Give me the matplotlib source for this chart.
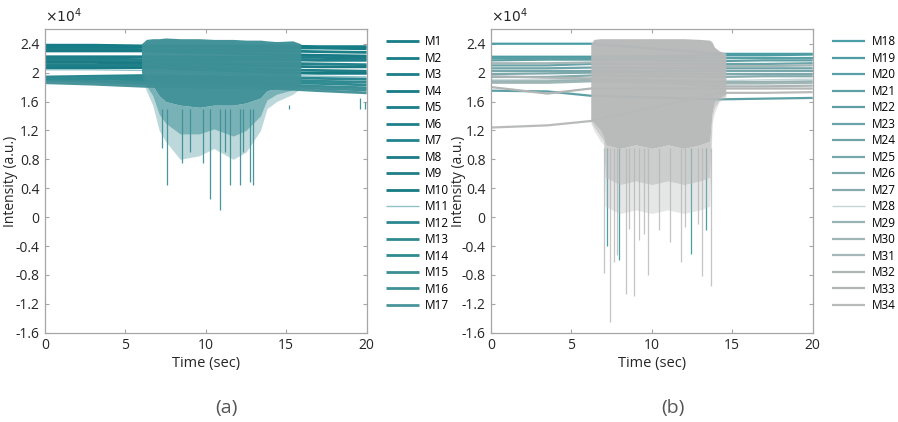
import matplotlib
matplotlib.use("Agg")
import matplotlib.pyplot as plt

plt.rcParams["font.family"] = ["Open Sans", "DejaVu Sans"]

# ---- data (intensity in units of 1e4) ----
left_names = [f"M{i}" for i in range(1, 18)]
right_names = [f"M{i}" for i in range(18, 35)]

left_knot_t = [0, 3, 6.2, 14.5, 17, 20]
left_levels = [
    [2.38, 2.38, 2.37, 2.37, 2.36, 2.36],
    [2.36, 2.36, 2.36, 2.34, 2.34, 2.33],
    [2.33, 2.33, 2.32, 2.30, 2.29, 2.28],
    [2.30, 2.30, 2.30, 2.25, 2.24, 2.23],
    [2.22, 2.22, 2.22, 2.21, 2.21, 2.20],
    [2.19, 2.19, 2.18, 2.18, 2.17, 2.17],
    [2.16, 2.16, 2.15, 2.13, 2.12, 2.11],
    [2.14, 2.14, 2.13, 2.09, 2.08, 2.08],
    [2.10, 2.10, 2.10, 2.04, 2.03, 2.02],
    [2.07, 2.07, 2.07, 2.00, 1.99, 1.99],
    [2.04, 2.04, 2.03, 1.96, 1.95, 1.94],
    [1.94, 1.95, 1.96, 1.93, 1.92, 1.91],
    [1.92, 1.93, 1.93, 1.90, 1.88, 1.87],
    [1.90, 1.91, 1.90, 1.86, 1.85, 1.83],
    [1.88, 1.88, 1.87, 1.83, 1.81, 1.79],
    [1.87, 1.86, 1.84, 1.80, 1.78, 1.76],
    [1.86, 1.84, 1.81, 1.78, 1.75, 1.72],
]

right_knot_t = [0, 3.5, 6.2, 14.2, 17, 20]
right_levels = [
    [2.40, 2.40, 2.40, 2.26, 2.26, 2.26],
    [2.22, 2.22, 2.22, 2.24, 2.24, 2.25],
    [2.20, 2.20, 2.20, 2.20, 2.20, 2.20],
    [1.75, 1.74, 1.68, 1.63, 1.64, 1.65],
    [2.17, 2.18, 2.18, 2.16, 2.17, 2.17],
    [2.10, 2.10, 2.12, 2.12, 2.12, 2.13],
    [2.06, 2.06, 2.07, 2.06, 2.06, 2.06],
    [2.02, 2.02, 2.02, 2.02, 2.02, 2.02],
    [1.98, 1.99, 2.00, 1.98, 1.98, 1.98],
    [1.94, 1.94, 1.96, 1.94, 1.95, 1.95],
    [1.90, 1.90, 1.92, 1.89, 1.90, 1.91],
    [1.88, 1.88, 1.90, 1.87, 1.87, 1.88],
    [1.86, 1.86, 1.88, 1.85, 1.85, 1.86],
    [2.13, 2.13, 2.14, 2.09, 2.09, 2.10],
    [1.95, 1.93, 1.92, 1.81, 1.81, 1.82],
    [1.80, 1.71, 1.78, 1.78, 1.78, 1.78],
    [1.24, 1.27, 1.33, 1.72, 1.72, 1.73],
]

# burst envelopes: upper edge, dense-core lower edge, mid lower edge, sparse lower edge
left_burst_t = [6.0, 6.3, 6.7, 7.1, 7.5, 8.4, 9.6, 10.5, 11.7, 12.5, 13.4, 13.8, 14.4, 15.4, 15.9]
left_burst_top = [2.40, 2.46, 2.47, 2.47, 2.48, 2.47, 2.47, 2.46, 2.46, 2.45, 2.45, 2.44, 2.43, 2.44, 2.40]
left_burst_core = [2.00, 1.90, 1.82, 1.68, 1.60, 1.55, 1.52, 1.55, 1.55, 1.58, 1.65, 1.75, 1.78, 1.82, 1.84]
left_burst_mid = [1.97, 1.82, 1.68, 1.42, 1.30, 1.15, 1.15, 1.22, 1.12, 1.20, 1.40, 1.62, 1.70, 1.76, 1.80]
left_burst_low = [1.95, 1.75, 1.55, 1.20, 1.05, 0.80, 0.85, 0.95, 0.80, 0.90, 1.20, 1.50, 1.60, 1.70, 1.78]

right_burst_t = [6.2, 6.4, 6.8, 7.0, 7.1, 8.0, 9.0, 10.0, 11.0, 12.0, 13.0, 13.6, 13.75, 13.9, 14.2, 14.6]
right_burst_top = [2.40, 2.46, 2.47, 2.47, 2.47, 2.47, 2.47, 2.47, 2.47, 2.47, 2.46, 2.45, 2.42, 2.35, 2.30, 2.27]
right_burst_core = [1.35, 1.30, 1.20, 1.10, 1.00, 0.95, 1.00, 0.95, 1.00, 0.95, 1.00, 1.05, 1.45, 1.60, 1.65, 1.70]
right_burst_mid = [1.33, 1.25, 1.12, 1.05, 0.55, 0.45, 0.50, 0.45, 0.50, 0.45, 0.50, 0.55, 1.38, 1.52, 1.62, 1.68]
right_burst_low = [1.30, 1.20, 1.05, 1.00, 0.15, 0.05, 0.10, 0.05, 0.10, 0.05, 0.10, 0.15, 1.30, 1.45, 1.60, 1.65]

# deepest individual dips (time, minimum)
left_spike_t = [7.3, 7.6, 8.5, 9.0, 9.8, 10.28, 10.88, 11.2, 11.5, 12.1, 12.3, 12.75, 12.95, 15.2, 16.4, 19.6, 19.9]
left_spike_min = [0.95, 0.45, 0.75, 0.90, 0.75, 0.25, 0.10, 0.90, 0.45, 0.45, 0.90, 0.48, 0.45, 1.55, 1.50, 1.65, 1.60]

right_spike_t = [7.05, 7.19, 7.38, 7.65, 7.81, 7.98, 8.37, 8.6, 8.91, 9.18, 9.53, 9.78,
                 10.47, 11.13, 11.79, 12.06, 12.44, 12.89, 13.14, 13.37, 13.7]
right_spike_min = [-0.78, -0.40, -1.45, -0.62, -0.53, -0.59, -1.07, -0.16, -1.09, -0.32, -0.23, -0.80,
                   -0.18, -0.34, -0.62, -0.14, -0.51, -0.09, -0.81, -0.18, -0.96]
right_spike_teal = [False, True, False, False, False, True, False, False, False, False, False, False,
                    False, False, False, False, True, False, False, True, False]

yticks = [-1.6, -1.2, -0.8, -0.4, 0, 0.4, 0.8, 1.2, 1.6, 2, 2.4]
ytick_labels = ["-1.6", "-1.2", "-0.8", "-0.4", "0", "0.4", "0.8", "1.2", "1.6", "2", "2.4"]
xticks = [0, 5, 10, 15, 20]

# ---- styles ----
left_colors = ["#167c86", "#167c86", "#1b7f88", "#177a84", "#1a7d87", "#1f8089", "#23838c",
               "#1a7b85", "#1f7f88", "#167a83", "#8fc3c7", "#2a878f", "#2f8a92", "#2f8b92",
               "#3a8e94", "#3f9097", "#4a959b"]
left_widths = [2.0] * 10 + [1.0] + [2.0] * 6
right_colors = ["#4a9ea5", "#4d9ca3", "#57a0a6", "#5c9fa5", "#5f9fa4", "#6aa3a8", "#70a4a9",
                "#78a7ab", "#7ea9ac", "#86abad", "#c5d5d6", "#98b3b4", "#a0b5b6", "#a6b7b8",
                "#adb5b5", "#b2b5b5", "#b9baba"]
right_widths = [1.6] * 10 + [1.0] + [1.6] * 6

AX_EDGE = "#a6a6a6"
TXT = "#262626"

fig = plt.figure(figsize=(8.98, 4.22), dpi=100)
ax_l = fig.add_axes([0.0501, 0.2116, 0.3582, 0.719])
ax_r = fig.add_axes([0.5468, 0.2116, 0.3582, 0.719])


def draw_panel(ax, names, knot_t, levels, colors, widths,
               bt, btop, bcore, bmid, blow, burst_color, spike_t, spike_min, spike_colors, spike_top,
               ylabel_x):
    handles = []
    for name, lv, c, w in zip(names, levels, colors, widths):
        h, = ax.plot(knot_t, lv, color=c, lw=w, label=name, solid_capstyle="butt")
        handles.append(h)
    for t, m, c in zip(spike_t, spike_min, spike_colors):
        ax.vlines(t, m, spike_top, color=c, lw=0.9, zorder=2.5)
    ax.fill_between(bt, blow, bmid, color=burst_color, alpha=0.35, lw=0, zorder=3)
    ax.fill_between(bt, bmid, bcore, color=burst_color, alpha=0.7, lw=0, zorder=3)
    ax.fill_between(bt, bcore, btop, color=burst_color, alpha=0.97, lw=0, zorder=3)

    ax.set_xlim(0, 20)
    ax.set_ylim(-1.6, 2.6)
    ax.set_xticks(xticks)
    ax.set_xticklabels([str(x) for x in xticks])
    ax.set_yticks(yticks)
    ax.set_yticklabels(ytick_labels)
    ax.tick_params(direction="in", top=True, right=True, length=3, width=0.8,
                   color=AX_EDGE, labelsize=10, labelcolor=TXT, pad=4)
    for s in ax.spines.values():
        s.set_color(AX_EDGE)
        s.set_linewidth(0.9)
    ax.set_xlabel("Time (sec)", fontsize=10.5, color=TXT, labelpad=2)
    ax.set_ylabel("Intensity (a.u.)", fontsize=10, color=TXT)
    ax.yaxis.set_label_coords(ylabel_x, 0.5)
    ax.text(0.0, 1.012, r"$\times10^{4}$", transform=ax.transAxes, fontsize=10,
            color=TXT, ha="left", va="bottom")
    ax.legend(handles=handles, loc="upper left", bbox_to_anchor=(1.054, 0.988),
              frameon=False, fontsize=8.5, handlelength=2.75, handletextpad=0.55,
              labelspacing=0.295, borderaxespad=0.0, borderpad=0.2)


draw_panel(ax_l, left_names, left_knot_t, left_levels, left_colors, left_widths,
           left_burst_t, left_burst_top, left_burst_core, left_burst_mid, left_burst_low, "#3f9097",
           left_spike_t, left_spike_min, ["#4a959b"] * len(left_spike_t), 1.5, -0.084)

draw_panel(ax_r, right_names, right_knot_t, right_levels, right_colors, right_widths,
           right_burst_t, right_burst_top, right_burst_core, right_burst_mid, right_burst_low, "#b7b8b8",
           right_spike_t, right_spike_min,
           ["#4a9ea5" if tl else "#c4c4c4" for tl in right_spike_teal], 0.95, -0.078)

fig.text(226 / 898, 1 - 408 / 422, "(a)", fontsize=14, color="#555555", ha="center", va="center")
fig.text(673 / 898, 1 - 408 / 422, "(b)", fontsize=14, color="#555555", ha="center", va="center")

fig.savefig("out.png", dpi=100)
